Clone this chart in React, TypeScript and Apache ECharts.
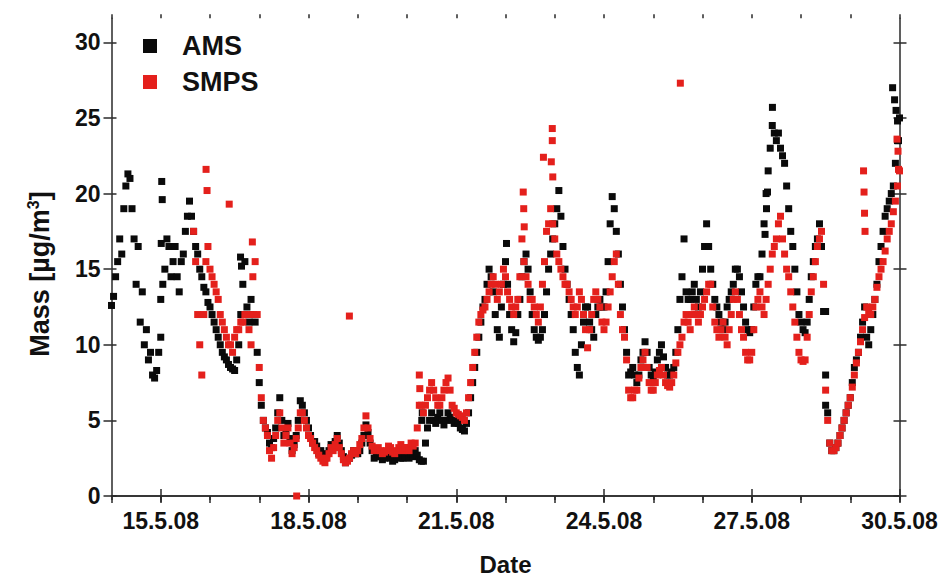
import React, { useEffect, useRef } from "react";
import * as echarts from "echarts";

// time step of the sampled values (1 hour, in days)
const STEP_DAYS = 1 / 24;
const AMS_START_DAY = 14;
const SMPS_START_DAY = 15 + 16 / 24;

// AMS mass concentration (µg/m³), hourly from 14.5.08 00:00 (one row per day)
const amsValues = [
  12.6, 13.2, 14.5, 15.5, 17.0, 16.0, 19.0, 20.5, 21.3, 21.0, 19.0, 17.0, 14.0, 16.5, 11.5, 13.5, 10.0, 11.0, 9.0, 9.5, 8.0, 7.8, 8.3, 9.5,
  13.0, 14.0, 15.0, 17.0, 16.5, 14.5, 15.5, 16.5, 14.5, 13.5, 15.5, 16.0, 17.5, 18.5, 19.5, 18.5, 17.5, 16.5, 16.0, 15.0, 14.5, 13.8, 13.5, 12.8,
  12.5, 12.0, 11.5, 11.0, 10.5, 10.0, 9.5, 9.2, 9.0, 8.7, 8.5, 8.4, 8.3, 9.0, 10.0, 12.0, 14.0, 15.5, 12.5, 11.5, 13.0, 12.0, 11.5, 9.5,
  7.5, 6.0, 5.0, 4.5, 4.2, 3.5, 3.2, 3.8, 4.5, 5.5, 6.5, 5.0, 4.0, 4.2, 4.8, 3.8, 3.0, 3.4, 4.0, 5.0, 6.3, 6.0, 5.5, 5.0,
  4.5, 4.0, 3.5, 3.6, 3.3, 2.8, 3.0, 2.7, 2.5, 2.8, 3.0, 3.4, 3.2, 3.6, 4.0, 3.5, 3.0, 2.6, 2.2, 2.4, 2.5, 2.7, 3.0, 2.8,
  2.8, 3.0, 3.5, 4.0, 4.7, 4.2, 3.5, 3.0, 2.5, 2.6, 2.8, 2.6, 2.4, 2.5, 2.6, 2.8, 2.5, 2.3, 2.4, 2.6, 2.7, 2.5, 2.5, 2.6,
  2.6, 2.5, 2.8, 2.6, 3.0, 2.7, 2.4, 2.3, 2.3, 3.5, 4.5, 5.0, 5.5, 5.0, 4.8, 5.2, 5.5, 5.0, 4.7, 5.0, 5.5, 5.2, 5.0, 4.8,
  5.0, 4.8, 4.5, 4.4, 4.3, 4.8, 5.5, 6.5, 7.5, 8.5, 9.5, 10.5, 11.5, 12.5, 13.0, 14.0, 15.0, 14.5, 13.5, 12.0, 11.0, 10.5, 12.5, 14.0,
  15.5, 14.0, 12.0, 11.0, 10.2, 10.8, 12.0, 13.0, 14.5, 15.5, 16.0, 15.0, 13.5, 12.0, 11.0, 10.5, 10.3, 10.5, 11.0, 12.0, 13.5, 15.0, 16.0, 17.0,
  18.0, 19.0, 20.2, 18.5, 16.5, 15.0, 14.0, 13.0, 12.0, 11.0, 9.5, 8.5, 8.0, 10.0, 11.5, 12.5, 12.5, 11.5, 11.0, 10.5, 12.0, 12.5, 13.0, 12.5,
  12.5, 13.5, 15.5, 18.0, 19.8, 19.0, 17.5, 16.0, 14.0, 12.5, 11.0, 9.5, 8.0, 8.2, 8.5, 8.0, 7.5, 8.0, 9.0, 9.5, 10.2, 9.5, 8.5, 8.0,
  7.8, 8.2, 9.0, 9.5, 10.0, 9.2, 8.5, 8.0, 8.0, 8.2, 8.5, 9.5, 11.0, 13.0, 14.5, 17.0, 13.5, 13.0, 13.0, 13.5, 14.0, 13.0, 12.5, 13.5,
  15.0, 16.5, 18.0, 16.5, 15.0, 14.0, 13.0, 12.5, 12.0, 11.5, 11.0, 11.5, 12.5, 13.0, 13.5, 14.0, 15.0, 15.0, 14.5, 13.5, 12.5, 11.5, 11.0, 10.8,
  11.0, 12.5, 14.0, 14.5, 14.5, 16.0, 18.0, 20.0, 21.5, 23.0, 24.5, 24.0, 23.5, 24.0, 23.0, 22.5, 22.0, 20.5, 19.0, 17.5, 16.5, 15.0, 13.5, 12.0,
  11.5, 11.0, 10.8, 11.5, 13.0, 14.5, 15.5, 16.5, 17.0, 18.0, 16.5, 12.2, 8.0, 5.5, 3.5, 3.0, 3.0, 3.2, 3.5, 4.0, 4.5, 5.0, 5.5, 6.0,
  6.5, 7.5, 8.5, 9.0, 9.5, 10.5, 11.5, 12.5, 10.5, 10.0, 11.0, 12.0, 13.0, 14.0, 15.5, 16.5, 17.5, 18.5, 19.0, 19.5, 20.0, 20.5, 22.0, 23.5,
  25.0,
];

// SMPS mass concentration (µg/m³), hourly from 15.5.08 16:00 (full days per row after the first)
const smpsValues = [
  17.5, 15.5, 12.0, 10.0, 8.0, 12.0, 15.5, 16.5,
  15.0, 14.5, 14.0, 13.5, 13.0, 12.0, 11.5, 11.0, 10.5, 10.0, 10.0, 9.5, 10.5, 11.0, 11.0, 11.5, 11.5, 12.0, 12.0, 11.0, 10.0, 12.0, 15.5, 12.0,
  8.5, 6.5, 5.0, 4.5, 4.0, 3.0, 2.5, 3.2, 4.0, 5.0, 5.5, 4.5, 3.5, 4.0, 4.5, 3.5, 2.8, 3.2, 3.8, 4.5, 5.5, 5.5, 5.0, 4.5,
  4.0, 3.8, 3.5, 3.2, 3.0, 2.7, 2.5, 2.3, 2.2, 2.5, 2.8, 3.2, 3.0, 3.4, 3.8, 3.2, 2.8, 2.4, 2.2, 2.3, 2.5, 2.8, 3.0, 2.8,
  3.0, 3.4, 3.8, 4.5, 5.3, 4.5, 3.8, 3.3, 3.0, 3.1, 3.2, 3.0, 2.8, 2.9, 3.0, 3.3, 3.2, 2.9, 2.8, 3.0, 3.2, 3.4, 3.0, 3.2,
  3.2, 3.0, 3.5, 3.3, 3.5, 4.5, 6.0, 6.0, 5.5, 6.0, 6.5, 7.0, 7.5, 7.0, 6.5, 6.0, 6.0, 6.5, 7.0, 7.5, 7.8, 7.0, 6.0, 5.8,
  5.5, 5.4, 5.3, 5.2, 5.0, 5.5, 6.5, 7.5, 8.5, 9.5, 10.5, 11.5, 12.0, 12.3, 12.5, 13.0, 13.5, 14.0, 14.5, 14.0, 13.0, 13.5, 14.0, 15.0,
  14.5, 13.5, 13.0, 12.5, 12.0, 12.5, 13.0, 14.5, 17.0, 15.5, 14.5, 14.0, 13.0, 13.0, 12.5, 12.0, 11.5, 12.5, 14.0, 15.5, 17.5, 18.0, 19.0, 18.0,
  17.0, 16.0, 15.5, 15.0, 14.5, 14.0, 14.0, 13.5, 13.0, 12.5, 12.0, 12.5, 13.5, 13.0, 12.0, 11.0, 9.8, 11.0, 12.0, 13.0, 13.5, 13.0, 12.5, 11.5,
  11.0, 11.5, 12.5, 13.5, 14.5, 15.5, 16.0, 14.0, 12.0, 11.0, 10.5, 9.0, 7.0, 6.5, 6.5, 7.0, 7.0, 7.8, 8.5, 9.0, 9.5, 8.5, 7.5, 7.0,
  7.0, 7.5, 8.0, 8.3, 8.5, 8.0, 7.5, 7.3, 7.2, 7.5, 8.0, 8.8, 9.5, 10.0, 10.5, 11.5, 12.0, 11.5, 11.0, 12.0, 12.5, 12.0, 11.5, 12.0,
  12.5, 13.0, 13.5, 14.0, 14.0, 12.5, 11.5, 11.0, 10.5, 11.0, 11.5, 10.5, 10.0, 11.0, 12.0, 13.0, 13.5, 13.0, 12.0, 11.0, 10.5, 9.5, 9.0, 9.0,
  9.5, 11.0, 12.5, 13.0, 13.5, 12.5, 12.0, 13.0, 14.0, 15.0, 16.0, 16.5, 17.0, 18.0, 18.5, 17.0, 16.0, 15.0, 14.5, 13.5, 12.5, 11.5, 10.5, 9.5,
  9.0, 8.9, 9.0, 10.5, 12.0, 13.5, 14.5, 15.5, 16.5, 17.0, 17.5, 14.0, 7.0, 5.0, 3.5, 3.0, 3.0, 3.2, 3.5, 4.0, 4.5, 5.0, 5.5, 6.0,
  6.5, 7.2, 8.0, 8.8, 9.5, 10.2, 11.0, 11.8, 12.5, 12.2, 12.0, 12.5, 13.0, 13.8, 14.5, 15.0, 15.5, 16.2, 17.0, 17.5, 18.0, 18.8, 19.5, 20.5,
  21.5,
];

// isolated readings between the hourly samples: [day of May, value]
const amsExtra: [number, number][] = [
  [15.0, 10.5], [15.02, 20.8], [15.03, 19.6], [15.01, 16.7],
  [16.62, 15.8], [16.64, 15.2], [20.3, 5.0], [20.31, 5.5],
  [22.02, 16.7], [27.27, 17.3], [27.3, 19.0], [27.32, 20.1], [27.42, 25.7],
  [28.5, 12.2], [28.5, 6.0], [29.86, 27.0], [29.9, 26.2], [29.93, 25.5],
  [29.96, 24.8], [29.98, 23.5],
];
const smpsExtra: [number, number][] = [
  [15.92, 21.6], [15.94, 20.2], [16.39, 19.3], [16.86, 16.8], [16.87, 14.5],
  [17.76, 0.0], [18.83, 11.9], [20.25, 8.0], [20.26, 7.1],
  [22.36, 20.1], [22.37, 19.0], [22.38, 17.8], [22.77, 22.4], [22.93, 22.1],
  [22.95, 24.3], [22.95, 23.5], [22.96, 21.1], [25.55, 27.3],
  [29.27, 21.5], [29.28, 20.1], [29.29, 18.7], [29.3, 17.5],
  [29.95, 23.6], [29.97, 22.8], [29.98, 21.6],
];

const xTickDays = [14, 15, 16, 17, 18, 19, 20, 21, 22, 23, 24, 25, 26, 27, 28, 29, 30];
const xLabelDays = [15, 18, 21, 24, 27, 30];
const xLabels = ["15.5.08", "18.5.08", "21.5.08", "24.5.08", "27.5.08", "30.5.08"];
const yTicks = [0, 5, 10, 15, 20, 25, 30];
const Y_MAX = 31.59;

const FONT = "'Liberation Sans', Arial, Helvetica, sans-serif";
const AXIS_COLOR = "#2a2a2a";
const TEXT_COLOR = "#111111";

export default function App() {
  const ref = useRef<HTMLDivElement>(null);

  useEffect(() => {
    document.body.style.margin = "0";
    const chart = echarts.init(ref.current!, null, { renderer: "svg" });

    const amsData = amsValues
      .map((v, i) => [AMS_START_DAY + i * STEP_DAYS, v])
      .concat(amsExtra);
    const smpsData = smpsValues
      .map((v, i) => [SMPS_START_DAY + i * STEP_DAYS, v])
      .concat(smpsExtra);

    const lineStyle = { color: AXIS_COLOR, width: 1.5 };
    const baseX = {
      type: "value",
      min: 14,
      max: 30,
      splitLine: { show: false },
      axisLabel: { show: false },
    };
    const baseY = {
      type: "value",
      min: 0,
      max: Y_MAX,
      splitLine: { show: false },
      axisLabel: { show: false },
    };

    chart.setOption({
      animation: false,
      backgroundColor: "#ffffff",
      textStyle: { fontFamily: FONT },
      grid: { left: 111.5, right: 49.5, top: 18.3, bottom: 78.7 },
      legend: {
        data: ["AMS", "SMPS"],
        orient: "vertical",
        left: 143,
        top: 32,
        padding: 0,
        itemWidth: 14,
        itemHeight: 14,
        itemGap: 8,
        icon: "rect",
        textStyle: {
          fontSize: 27,
          fontWeight: "bold",
          color: TEXT_COLOR,
          fontFamily: FONT,
          lineHeight: 28,
          padding: [0, 0, 0, 20],
        },
      },
      graphic: [
        {
          type: "text",
          x: 40,
          y: 274,
          rotation: Math.PI / 2,
          style: {
            text: "Mass [µg/m{sup|3}]",
            fontSize: 27,
            fontWeight: "bold",
            fontFamily: FONT,
            fill: TEXT_COLOR,
            align: "center",
            verticalAlign: "middle",
            lineHeight: 30,
            rich: {
              sup: { fontSize: 16, fontWeight: "bold", fontFamily: FONT, fill: TEXT_COLOR, verticalAlign: "top", lineHeight: 16 },
            },
          },
        },
      ],
      xAxis: [
        {
          ...baseX,
          position: "bottom",
          axisLine: { show: true, lineStyle },
          axisTick: { show: true, length: 4, customValues: xTickDays, lineStyle },
          name: "Date",
          nameLocation: "middle",
          nameGap: 56,
          nameTextStyle: { fontSize: 24, fontWeight: "bold", color: TEXT_COLOR, fontFamily: FONT },
        },
        {
          ...baseX,
          position: "bottom",
          axisLine: { show: false },
          axisTick: { show: true, length: 6, customValues: xLabelDays, lineStyle },
          axisLabel: {
            show: true,
            customValues: xLabelDays,
            formatter: (v: number) => {
              const k = xLabelDays.indexOf(Math.round(v));
              return k >= 0 ? xLabels[k] : "";
            },
            fontSize: 23,
            fontWeight: "bold",
            color: TEXT_COLOR,
            fontFamily: FONT,
            margin: 13,
          },
        },
        {
          ...baseX,
          position: "bottom",
          axisLine: { show: false },
          axisTick: { show: true, inside: true, length: 7, customValues: xLabelDays, lineStyle },
        },
        {
          ...baseX,
          position: "top",
          axisLine: { show: true, lineStyle },
          axisTick: { show: true, inside: true, length: 7, customValues: xTickDays, lineStyle },
        },
        {
          ...baseX,
          position: "top",
          axisLine: { show: false },
          axisTick: { show: true, length: 4, customValues: xTickDays, lineStyle },
        },
      ],
      yAxis: [
        {
          ...baseY,
          position: "left",
          axisLine: { show: true, lineStyle },
          axisTick: { show: true, length: 8, customValues: yTicks, lineStyle },
          axisLabel: {
            show: true,
            customValues: yTicks,
            fontSize: 23,
            fontWeight: "bold",
            color: TEXT_COLOR,
            fontFamily: FONT,
            margin: 11,
          },
        },
        {
          ...baseY,
          position: "left",
          axisLine: { show: false },
          axisTick: { show: true, inside: true, length: 5, customValues: yTicks, lineStyle },
        },
        {
          ...baseY,
          position: "right",
          axisLine: { show: true, lineStyle },
          axisTick: { show: true, inside: true, length: 6, customValues: yTicks, lineStyle },
        },
        {
          ...baseY,
          position: "right",
          axisLine: { show: false },
          axisTick: { show: true, length: 7, customValues: yTicks, lineStyle },
        },
      ],
      series: [
        {
          name: "AMS",
          type: "scatter",
          xAxisIndex: 0,
          yAxisIndex: 0,
          symbol: "rect",
          symbolSize: 7,
          itemStyle: { color: "#0a0a0a", opacity: 1 },
          data: amsData,
          z: 2,
        },
        {
          name: "SMPS",
          type: "scatter",
          xAxisIndex: 0,
          yAxisIndex: 0,
          symbol: "rect",
          symbolSize: 7,
          itemStyle: { color: "#e4201c", opacity: 1 },
          data: smpsData,
          z: 3,
        },
      ],
    });

    return () => chart.dispose();
  }, []);

  return <div ref={ref} style={{ width: 949, height: 581 }} />;
}
